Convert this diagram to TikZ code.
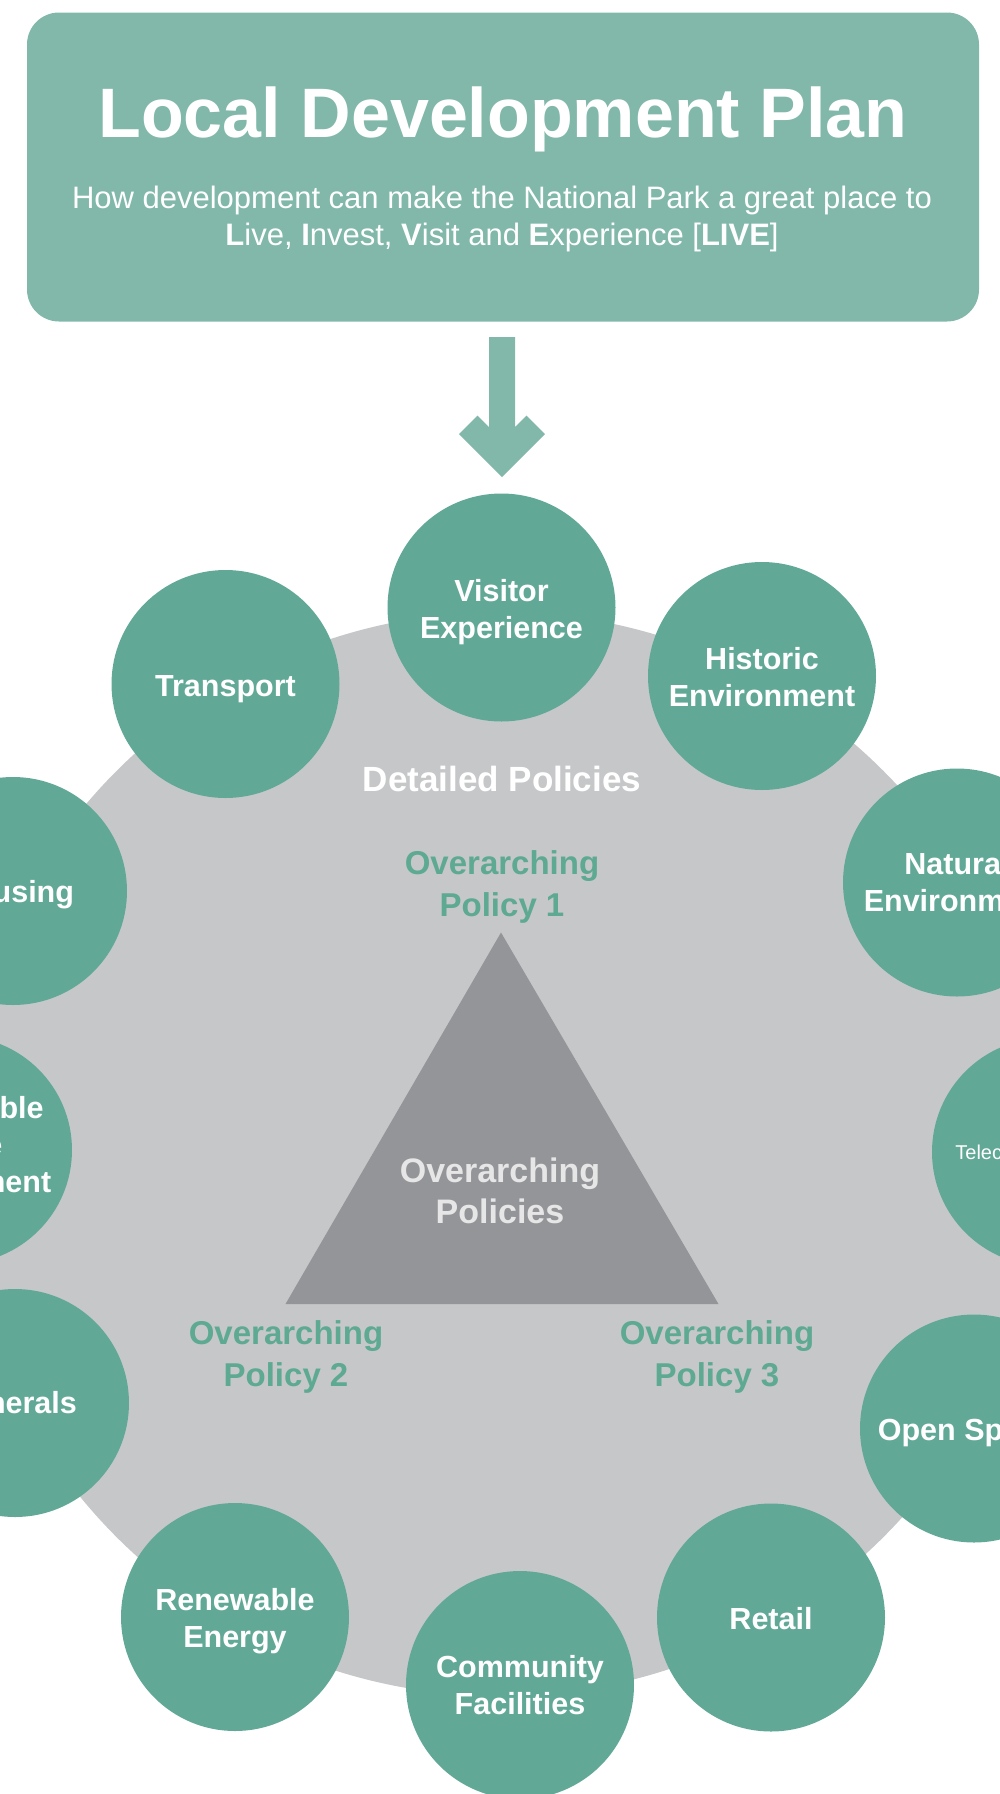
\documentclass[tikz,border=0pt]{standalone}
\usepackage{fontspec}
\setmainfont{Liberation Sans}
\definecolor{topicc}{HTML}{61A996}
\definecolor{headc}{HTML}{81B8AA}
\definecolor{grayc}{HTML}{C6C7C9}
\definecolor{trigc}{HTML}{939598}
\definecolor{tealtxt}{HTML}{5DA991}
\definecolor{trtxt}{HTML}{E6E6E7}
\begin{document}
\begin{tikzpicture}[x=1pt,y=-1pt,
  topic/.style={circle, fill=topicc, minimum size=228pt, inner sep=0pt},
  topictxt/.style={text=white, font=\fontsize{30.5}{37}\selectfont\bfseries, align=center},
  oplabel/.style={text=tealtxt, font=\fontsize{33}{42}\selectfont\bfseries, align=center},
  subline/.style={text=white, font=\fontsize{31}{37}\selectfont, anchor=base}]
\clip (0,0) rectangle (1000,1794);
% header
\node[fill=headc, rounded corners=32pt, minimum width=952pt, minimum height=309pt, inner sep=0pt] (header) at (503,167) {};
\node[text=white, font=\fontsize{70}{70}\selectfont\bfseries, anchor=base] (title) at (503,137) {Local Development Plan};
\node[subline] (sub1) at (502,208) {How development can make the National Park a great place to};
\node[subline] (sub2) at (502,245) {\textbf{L}ive, \textbf{I}nvest, \textbf{V}isit and \textbf{E}xperience [\textbf{LIVE}]};
% arrow
\coordinate (atip) at (502,477);
\fill[headc] (489,337) -- (515,337) -- (515,427) -- (526.6,415.6) -- (545,434) -- (atip) -- (459,434) -- (477.4,415.6) -- (489,427) -- cycle;
% detailed policies circle
\node[circle, fill=grayc, minimum size=1084pt, inner sep=0pt] (detail) at (500,1154) {};
% triangle
\coordinate (t1) at (501,932.5);
\coordinate (t2) at (718.5,1304);
\coordinate (t3) at (285.5,1304);
\fill[trigc] (t1) -- (t2) -- (t3) -- cycle;
\node[text=trtxt, font=\fontsize{34}{41}\selectfont\bfseries, align=center] (ovp) at (500,1191) {Overarching\\Policies};
\node[text=white, font=\fontsize{35}{40}\selectfont\bfseries] (dp) at (502,779) {Detailed Policies};
\node[oplabel] (op1) at (502,887) {Overarching\\Policy 1};
\node[oplabel] (op2) at (286,1357) {Overarching\\Policy 2};
\node[oplabel] (op3) at (717,1357) {Overarching\\Policy 3};
% topic circles
\node[topic] (vis) at (501.5,607.5) {};
\node[topic] (hist) at (762,676) {};
\node[topic] (nat) at (957,882.5) {};
\node[topic] (tel) at (1046,1152) {};
\node[topic] (open) at (974,1428.5) {};
\node[topic] (ret) at (771,1617.5) {};
\node[topic] (com) at (520,1685) {};
\node[topic] (ren) at (235,1617) {};
\node[topic] (mins) at (15,1403) {};
\node[topic] (waste) at (-42,1150) {};
\node[topic] (hous) at (13,891) {};
\node[topic] (trans) at (225.5,684) {};
% topic labels
\node[topictxt] (visl) at (501.5,612) {Visitor\\Experience};
\node[topictxt] (histl) at (762,677) {Historic\\Environment};
\node[topictxt] (natl) at (957,882.5) {Natural\\Environment};
\node[topictxt, font=\fontsize{20}{24}\selectfont] (tell) at (1046,1152) {Telecommunications};
\node[topictxt] (openl) at (966,1433) {Open Space};
\node[topictxt] (retl) at (771,1619) {Retail};
\node[topictxt] (coml) at (520,1685) {Community\\Facilities};
\node[topictxt] (renl) at (235,1621) {Renewable\\Energy};
\node[topictxt] (minsl) at (15,1403) {Minerals};
\node[topictxt] (wastel) at (-42,1148) {Sustainable\\Waste\\Management};
\node[topictxt] (housl) at (13,894.5) {Housing};
\node[topictxt] (transl) at (225.5,689.5) {Transport};
\end{tikzpicture}
\end{document}
